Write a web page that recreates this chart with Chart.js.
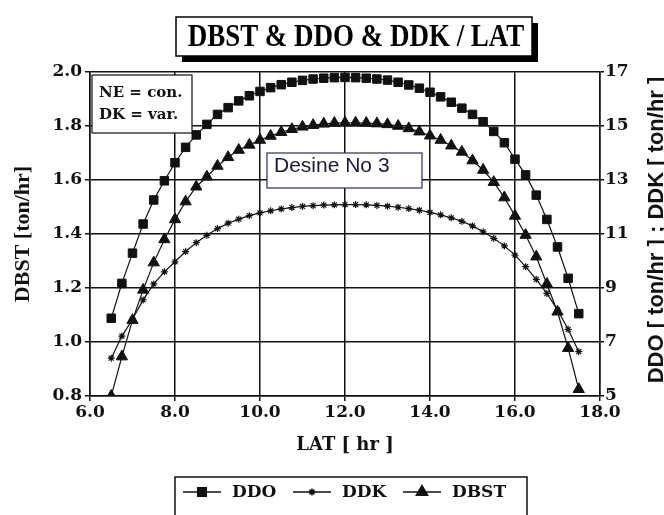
<!DOCTYPE html>
<html>
<head>
<meta charset="utf-8">
<script src="https://cdn.jsdelivr.net/npm/chart.js@4/dist/chart.umd.min.js"></script>
<style>
  html, body { margin: 0; padding: 0; background: #fff; }
</style>
</head>
<body>
<canvas id="chart" width="664" height="515"></canvas>
<script>
// LAT values [hr]
const lat = [6.5, 6.75, 7.0, 7.25, 7.5, 7.75, 8.0, 8.25, 8.5, 8.75, 9.0, 9.25, 9.5, 9.75,
  10.0, 10.25, 10.5, 10.75, 11.0, 11.25, 11.5, 11.75, 12.0, 12.25, 12.5, 12.75, 13.0, 13.25,
  13.5, 13.75, 14.0, 14.25, 14.5, 14.75, 15.0, 15.25, 15.5, 15.75, 16.0, 16.25, 16.5, 16.75,
  17.0, 17.25, 17.5];

// DDO [ton/hr] (right axis)
const ddo = [7.88, 9.17, 10.29, 11.37, 12.26, 12.97, 13.64, 14.21, 14.67, 15.06, 15.43, 15.68,
  15.93, 16.12, 16.28, 16.42, 16.53, 16.62, 16.69, 16.74, 16.77, 16.79, 16.80, 16.79, 16.77,
  16.74, 16.70, 16.62, 16.52, 16.40, 16.25, 16.08, 15.88, 15.66, 15.43, 15.16, 14.80, 14.38,
  13.77, 13.19, 12.44, 11.54, 10.52, 9.36, 8.05];

// DDK [ton/hr] (right axis)
const ddk = [6.40, 7.22, 7.84, 8.56, 9.15, 9.60, 9.97, 10.35, 10.68, 10.95, 11.20, 11.40,
  11.55, 11.68, 11.78, 11.86, 11.93, 11.98, 12.02, 12.05, 12.07, 12.08, 12.09, 12.09, 12.08,
  12.06, 12.03, 11.99, 11.94, 11.88, 11.80, 11.71, 11.60, 11.47, 11.30, 11.08, 10.84, 10.56,
  10.22, 9.79, 9.32, 8.80, 8.19, 7.47, 6.64];

// DBST [ton/hr] (left axis)
const dbst = [0.800, 0.946, 1.081, 1.193, 1.294, 1.380, 1.454, 1.520, 1.575, 1.612, 1.652,
  1.684, 1.711, 1.730, 1.748, 1.763, 1.777, 1.788, 1.797, 1.803, 1.808, 1.811, 1.812, 1.812,
  1.811, 1.809, 1.806, 1.800, 1.791, 1.779, 1.764, 1.748, 1.727, 1.704, 1.672, 1.637, 1.592,
  1.535, 1.467, 1.396, 1.316, 1.215, 1.112, 0.977, 0.825];

const chartTitle = 'DBST & DDO & DDK / LAT';
const rightTitle = 'DDO [ ton/hr ] ; DDK [ ton/hr ]';
const noteLines = ['NE = con.', 'DK = var.'];
const designNote = 'Desine No 3';

const serif = '"DejaVu Serif", serif';
const times = '"Liberation Serif", "Times New Roman", serif';
const sans = '"Liberation Sans", Arial, sans-serif';
const ink = '#111';

function points(ys) {
  return lat.map((x, i) => ({ x: x, y: ys[i] }));
}

// title box, notes, right axis title and legend
const decor = {
  id: 'decor',
  beforeDraw(chart) {
    const ctx = chart.ctx;
    ctx.save();
    ctx.fillStyle = '#fff';
    ctx.fillRect(0, 0, chart.width, chart.height);
    ctx.restore();
  },
  afterDraw(chart) {
    const ctx = chart.ctx;
    ctx.save();

    // title with shadow box
    ctx.fillStyle = '#000';
    ctx.fillRect(182, 23, 356, 39);
    ctx.fillStyle = '#fff';
    ctx.fillRect(176, 17, 356, 39);
    ctx.strokeStyle = '#000';
    ctx.lineWidth = 1.5;
    ctx.strokeRect(176, 17, 356, 39);
    ctx.save();
    ctx.translate(356, 38);
    ctx.scale(0.87, 1);
    ctx.font = 'bold 31px ' + times;
    ctx.textAlign = 'center';
    ctx.textBaseline = 'middle';
    ctx.fillStyle = '#000';
    ctx.fillText(chartTitle, 0, 0);
    ctx.restore();

    // NE / DK note
    ctx.fillStyle = '#fff';
    ctx.fillRect(92, 75, 100, 58);
    ctx.strokeStyle = ink;
    ctx.lineWidth = 1.2;
    ctx.strokeRect(92, 75, 100, 58);
    ctx.fillStyle = ink;
    ctx.font = 'bold 15px ' + serif;
    ctx.textAlign = 'left';
    ctx.textBaseline = 'middle';
    ctx.fillText(noteLines[0], 99, 93);
    ctx.fillText(noteLines[1], 99, 115);

    // design note
    ctx.fillStyle = '#fff';
    ctx.fillRect(267, 153, 155, 35);
    ctx.strokeStyle = '#2a2a60';
    ctx.strokeRect(267, 153, 155, 35);
    ctx.fillStyle = '#1a1a3a';
    ctx.font = '21px ' + sans;
    ctx.textBaseline = 'alphabetic';
    ctx.fillText(designNote, 274, 172);

    // right axis title, reading upwards
    ctx.save();
    ctx.translate(663, 230);
    ctx.rotate(-Math.PI / 2);
    ctx.font = 'bold 22px ' + sans;
    ctx.textAlign = 'center';
    ctx.textBaseline = 'alphabetic';
    ctx.fillStyle = ink;
    ctx.fillText(rightTitle, 0, 0);
    ctx.restore();

    // legend
    ctx.fillStyle = '#fff';
    ctx.fillRect(175, 477, 352, 60);
    ctx.strokeStyle = ink;
    ctx.lineWidth = 1.5;
    ctx.strokeRect(175, 477, 352, 60);
    const starts = [183, 293, 403];
    chart.data.datasets.forEach((ds, i) => {
      const x0 = starts[i];
      const y = 492;
      ctx.strokeStyle = ink;
      ctx.lineWidth = 1.5;
      ctx.beginPath();
      ctx.moveTo(x0, y);
      ctx.lineTo(x0 + 38, y);
      ctx.stroke();
      ctx.fillStyle = ink;
      Chart.helpers.drawPoint(ctx, {
        pointStyle: ds.pointStyle,
        radius: ds.pointRadius,
        rotation: 0,
        borderWidth: ds.pointBorderWidth
      }, x0 + 19, y);
      ctx.fillStyle = ink;
      ctx.font = 'bold 17px ' + serif;
      ctx.textAlign = 'left';
      ctx.textBaseline = 'middle';
      ctx.fillText(ds.label, x0 + 49, y + 1);
    });

    ctx.restore();
  }
};

new Chart(document.getElementById('chart'), {
  type: 'line',
  data: {
    datasets: [
      {
        label: 'DDO',
        data: points(ddo),
        yAxisID: 'y1',
        borderColor: ink,
        backgroundColor: ink,
        borderWidth: 1.2,
        pointStyle: 'rect',
        pointRadius: 6,
        pointBorderWidth: 1,
        pointBackgroundColor: ink,
        pointBorderColor: ink
      },
      {
        label: 'DDK',
        data: points(ddk),
        yAxisID: 'y1',
        borderColor: ink,
        backgroundColor: ink,
        borderWidth: 1.2,
        pointStyle: 'star',
        pointRadius: 3.5,
        pointBorderWidth: 1.2,
        pointBackgroundColor: ink,
        pointBorderColor: ink
      },
      {
        label: 'DBST',
        data: points(dbst),
        yAxisID: 'y',
        borderColor: ink,
        backgroundColor: ink,
        borderWidth: 1.2,
        pointStyle: 'triangle',
        pointRadius: 6.5,
        pointBorderWidth: 1,
        pointBackgroundColor: ink,
        pointBorderColor: ink
      }
    ]
  },
  options: {
    responsive: false,
    animation: false,
    layout: { padding: { top: 72, bottom: 59, left: 0, right: 0 } },
    plugins: {
      legend: { display: false },
      title: { display: false },
      tooltip: { enabled: false }
    },
    scales: {
      x: {
        type: 'linear',
        min: 6,
        max: 18,
        afterFit: s => { s.height = 60; },
        ticks: {
          stepSize: 2,
          maxRotation: 0,
          autoSkip: false,
          padding: 1,
          color: ink,
          font: { family: serif, size: 17, weight: 'bold' },
          callback: v => v.toFixed(1)
        },
        grid: { color: ink, lineWidth: 1.5, tickLength: 5 },
        border: { color: ink, width: 1.5 },
        title: {
          display: true,
          text: 'LAT [ hr ]',
          color: ink,
          padding: { top: 0, bottom: 0 },
          font: { family: serif, size: 18, weight: 'bold' }
        }
      },
      y: {
        position: 'left',
        min: 0.8,
        max: 2.0,
        afterFit: s => { s.width = 90; },
        ticks: {
          stepSize: 0.2,
          padding: 3,
          color: ink,
          font: { family: serif, size: 17, weight: 'bold' },
          callback: v => v.toFixed(1)
        },
        grid: { color: ink, lineWidth: 1.5, tickLength: 5 },
        border: { color: ink, width: 1.5 },
        title: {
          display: true,
          text: 'DBST [ton/hr]',
          color: ink,
          padding: { top: 10, bottom: 0 },
          font: { family: times, size: 22, weight: 'bold' }
        }
      },
      y1: {
        position: 'right',
        min: 5,
        max: 17,
        afterFit: s => { s.width = 64; },
        ticks: {
          stepSize: 2,
          padding: 1,
          color: ink,
          font: { family: serif, size: 17, weight: 'bold' }
        },
        grid: { drawOnChartArea: false, color: ink, lineWidth: 1.5, tickLength: 4 },
        border: { color: ink, width: 1.5 }
      }
    }
  },
  plugins: [decor]
});
</script>
</body>
</html>
